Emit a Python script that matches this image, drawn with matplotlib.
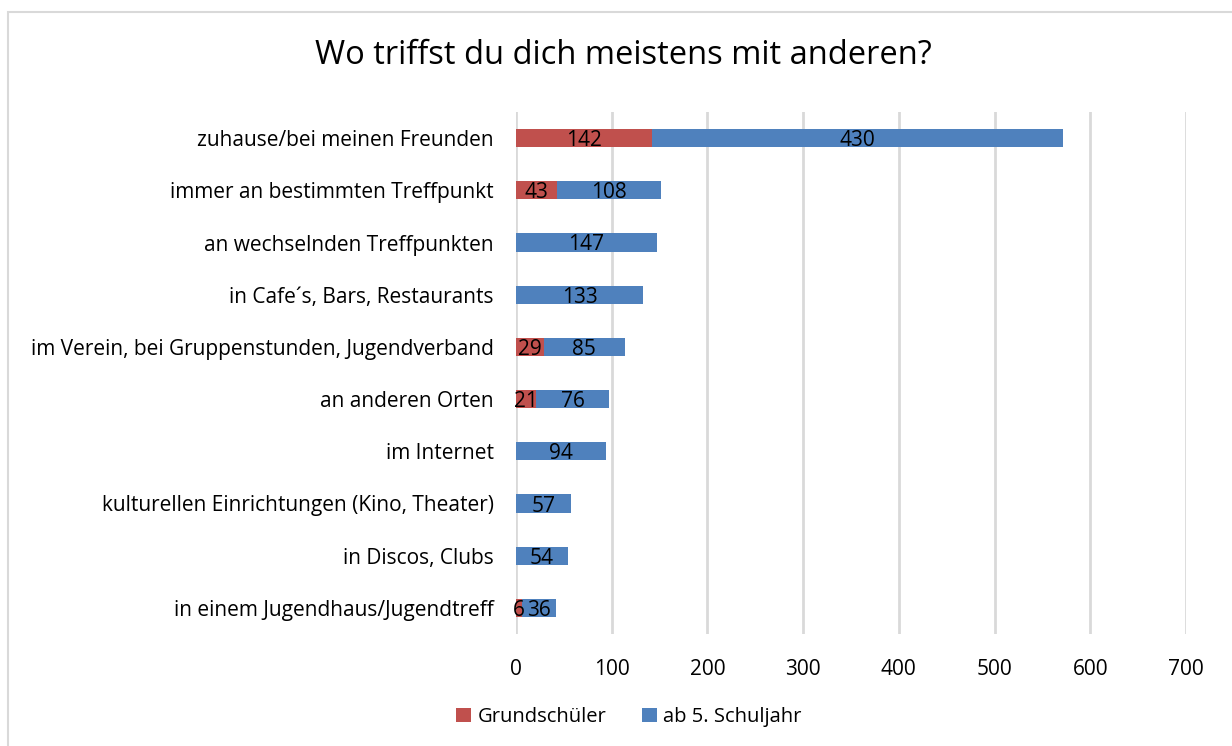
import matplotlib.pyplot as plt
from matplotlib.patches import Rectangle

# Data (bottom to top order as drawn in the chart)
categories = [
    "in einem Jugendhaus/Jugendtreff",
    "in Discos, Clubs",
    "kulturellen Einrichtungen (Kino, Theater)",
    "im Internet",
    "an anderen Orten",
    "im Verein, bei Gruppenstunden, Jugendverband",
    "in Cafe\u00b4s, Bars, Restaurants",
    "an wechselnden Treffpunkten",
    "immer an bestimmten Treffpunkt",
    "zuhause/bei meinen Freunden",
]
grundschueler = [6, 0, 0, 0, 21, 29, 0, 0, 43, 142]
ab_5_schuljahr = [36, 54, 57, 94, 76, 85, 133, 147, 108, 430]
x_ticks = [0, 100, 200, 300, 400, 500, 600, 700]

red = "#C0504D"
blue = "#4F81BD"
grid_color = "#D9D9D9"

plt.rcParams['font.family'] = ['Open Sans', 'DejaVu Sans']

fig = plt.figure(figsize=(12.32, 7.46), dpi=100)
ax = fig.add_axes([516 / 1232, 1 - 634 / 746, 670 / 1232, 522 / 746])

# chart frame (cut off at right and bottom)
fig.patches.append(Rectangle((8 / 1232, -0.05), 1.1, 1 - 12 / 746 + 0.05,
                             transform=fig.transFigure, fill=False,
                             edgecolor=grid_color, linewidth=1.5))

y = range(len(categories))
ax.barh(y, grundschueler, height=0.35, color=red, label="Grundschüler", zorder=3)
ax.barh(y, ab_5_schuljahr, height=0.35, left=grundschueler, color=blue,
        label="ab 5. Schuljahr", zorder=3)

# value labels centred on each segment
for i in y:
    g = grundschueler[i]
    b = ab_5_schuljahr[i]
    if g:
        ax.text(g / 2, i, str(g), ha="center", va="center_baseline",
                fontsize=15, zorder=4)
    ax.text(g + b / 2, i, str(b), ha="center", va="center_baseline",
            fontsize=15, zorder=4)

ax.set_xlim(0, 700)
ax.set_ylim(-0.5, len(categories) - 0.5)
ax.set_xticks(x_ticks)
ax.set_yticks(list(y))
ax.set_yticklabels(categories, fontsize=15)
ax.tick_params(axis="x", labelsize=15, length=0, pad=18)
ax.tick_params(axis="y", length=0, pad=16)
ax.grid(axis="x", color=grid_color, linewidth=2, zorder=0)
for s in ax.spines.values():
    s.set_visible(False)

fig.suptitle("Wo triffst du dich meistens mit anderen?", fontsize=23.5,
             x=623 / 1232, y=1 - 55 / 746, va="center")

fig.legend(loc="center", bbox_to_anchor=(629 / 1232, 1 - 717 / 746),
           ncol=2, frameon=False, fontsize=14.5, handlelength=0.75,
           handleheight=0.75, columnspacing=1.8, handletextpad=0.3)

fig.savefig("out.png", dpi=100)
